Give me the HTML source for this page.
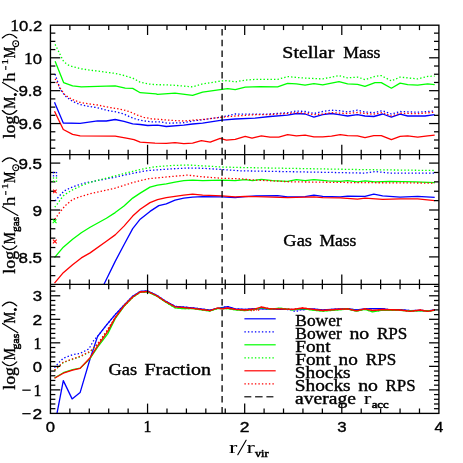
<!DOCTYPE html>
<html><head><meta charset="utf-8"><title>plot</title>
<style>
html,body{margin:0;padding:0;background:#fff;}
body{width:463px;height:463px;overflow:hidden;font-family:"Liberation Serif",serif;}
svg{display:block;will-change:transform;}
text{white-space:pre;}
.s{font-family:"Liberation Serif",serif;}
.n{font-family:"Liberation Sans",sans-serif;}
</style></head><body>
<svg width="463" height="463" viewBox="0 0 463 463">
<rect x="0" y="0" width="463" height="463" fill="#ffffff"/>
<polyline points="54.5,102.2 63.3,123.0 80.1,123.3 97.6,120.8 106.4,121.0 115.2,119.5 124.0,121.3 132.7,123.8 140.2,124.5 147.7,125.5 157.5,125.2 166.3,126.5 183.8,125.2 192.6,124.0 202.6,123.2 222.0,120.2 235.2,119.0 255.0,118.2 270.0,116.5 287.6,115.2 296.4,113.5 305.1,114.0 313.9,117.2 322.7,114.7 331.5,113.5 339.0,114.7 347.6,116.0 357.5,114.7 365.0,116.0 373.8,116.5 382.6,114.0 391.4,117.2 400.1,114.2 407.7,116.0 425.0,116.0 434.7,114.7" fill="none" stroke="#0000ff" stroke-width="1.3" stroke-linejoin="round" stroke-linecap="butt" />
<polyline points="55.1,74.1 60.0,88.8 65.0,95.7 70.0,99.8 75.0,102.5 80.0,104.4 85.0,105.7 90.1,106.6 97.6,107.8 105.1,109.8 110.0,111.0 116.3,111.9 123.8,114.0 130.0,116.9 136.9,119.4 143.8,120.9 151.4,121.9 160.1,121.9 168.0,123.2 183.8,122.7 192.6,121.0 202.6,119.7 222.0,117.0 235.2,114.0 256.0,114.2 270.0,114.0 287.6,112.7 296.4,111.0 305.1,111.5 313.9,113.5 322.7,111.5 331.5,110.2 339.0,110.7 347.6,112.0 357.5,110.2 365.0,112.0 373.8,112.7 382.6,110.7 391.4,114.0 400.1,111.5 417.7,112.2 434.7,111.0" fill="none" stroke="#0000ff" stroke-width="1.3" stroke-linejoin="round" stroke-linecap="butt" stroke-dasharray="1.4 2.1" />
<polyline points="55.1,61.3 63.6,82.6 72.6,85.9 81.3,86.9 97.6,86.4 115.2,85.9 125.2,88.2 132.7,88.4 140.2,92.7 156.0,93.9 157.5,94.4 175.0,93.2 192.6,95.4 202.6,92.2 222.0,89.4 227.7,88.7 235.2,89.7 245.2,87.1 260.0,86.6 277.6,86.9 287.6,83.4 296.4,83.9 305.1,85.1 313.9,83.6 322.7,84.9 339.0,81.6 347.6,83.9 357.5,84.4 365.0,86.4 375.0,82.6 381.3,82.6 391.4,88.2 400.1,83.1 407.7,84.6 417.7,85.1 427.7,83.9 434.7,84.6" fill="none" stroke="#00ff00" stroke-width="1.3" stroke-linejoin="round" stroke-linecap="butt" />
<polyline points="55.1,44.4 63.6,61.5 67.6,64.7 72.5,66.6 81.3,68.8 90.1,70.1 115.2,73.4 124.0,75.5 132.7,78.1 140.0,82.1 147.7,83.9 155.0,84.6 172.6,85.1 192.6,86.9 202.6,83.9 222.0,80.9 227.7,80.6 235.2,81.9 245.2,80.1 255.0,79.4 277.6,79.4 287.6,76.6 296.4,77.4 305.1,78.1 322.7,78.9 339.0,75.6 347.6,77.9 357.5,77.1 365.0,79.6 375.0,76.4 381.3,75.6 391.4,80.9 400.1,77.1 417.7,78.9 427.7,76.4 434.7,76.1" fill="none" stroke="#00ff00" stroke-width="1.3" stroke-linejoin="round" stroke-linecap="butt" stroke-dasharray="1.4 2.1" />
<polyline points="54.5,111.3 63.3,129.5 72.6,134.3 80.1,135.8 115.2,136.1 127.7,138.3 134.0,139.6 140.2,142.1 155.0,143.1 166.3,143.3 175.0,142.6 183.8,143.6 192.6,143.1 201.4,140.6 210.2,142.1 220.2,138.3 226.4,140.1 235.2,139.3 245.2,136.3 252.0,138.1 261.3,135.8 270.0,137.1 278.8,137.1 287.6,134.6 296.4,135.8 305.1,135.1 313.9,136.8 322.7,136.8 331.5,136.1 340.2,134.6 347.6,135.6 357.5,135.8 365.0,137.6 373.8,135.6 381.3,135.6 391.4,139.6 400.1,136.3 407.7,135.8 417.7,137.1 427.7,135.8 434.7,135.1" fill="none" stroke="#ff0000" stroke-width="1.3" stroke-linejoin="round" stroke-linecap="butt" />
<polyline points="55.1,78.8 60.0,88.1 65.0,95.0 70.0,98.2 75.0,100.7 80.0,102.3 85.0,103.2 90.1,104.0 97.6,105.0 105.1,106.6 110.0,107.5 116.3,108.5 123.8,110.0 130.0,111.9 136.9,115.0 143.8,117.3 151.4,118.8 160.1,119.4 168.0,120.1 172.6,120.4 183.8,121.0 192.6,120.2 202.6,119.5 222.0,117.2 235.2,116.0 256.0,114.7 270.0,114.5 287.6,113.5 296.4,112.7 305.1,113.2 313.9,114.7 322.7,114.0 331.5,112.7 347.6,113.5 357.5,112.5 365.0,113.5 373.8,114.2 382.6,112.5 391.4,116.0 400.1,113.2 417.7,113.7 434.7,112.2" fill="none" stroke="#ff0000" stroke-width="1.3" stroke-linejoin="round" stroke-linecap="butt" stroke-dasharray="1.4 2.1" />
<polyline points="103.9,284.5 115.2,261.4 124.0,244.8 132.7,228.6 140.2,219.2 150.0,211.4 158.8,205.6 166.3,203.9 175.0,200.1 183.8,198.1 192.6,197.1 202.6,196.6 222.0,196.9 235.2,197.6 245.2,196.6 256.0,195.9 277.6,195.6 287.6,196.9 305.1,196.6 313.9,195.1 322.7,196.4 340.2,196.9 347.6,196.1 365.0,196.4 373.8,194.1 382.6,195.9 400.1,197.1 417.7,196.4 434.7,197.4" fill="none" stroke="#0000ff" stroke-width="1.3" stroke-linejoin="round" stroke-linecap="butt" />
<polyline points="55.2,200.9 59.6,195.7 64.3,190.9 70.8,187.6 77.3,185.3 83.7,183.3 90.1,182.0 106.4,178.8 115.2,177.1 132.7,173.3 147.7,170.5 155.0,170.0 172.6,168.8 187.6,168.0 202.6,168.3 222.0,169.5 240.2,170.8 340.0,172.6 365.0,173.1 375.0,171.5 390.0,173.1 434.7,173.1" fill="none" stroke="#0000ff" stroke-width="1.3" stroke-linejoin="round" stroke-linecap="butt" stroke-dasharray="1.4 2.1" />
<polyline points="54.5,257.7 63.3,247.2 72.6,239.2 81.3,232.7 90.1,227.2 106.4,218.2 115.2,212.6 124.0,206.1 132.7,198.1 140.2,193.1 150.0,187.1 157.5,185.1 166.3,183.8 175.0,182.1 183.8,180.6 192.6,180.1 202.6,180.6 222.0,180.1 235.2,180.6 245.2,179.6 252.5,180.6 261.3,179.3 272.5,180.6 287.6,181.3 296.4,179.6 305.1,180.6 313.9,179.6 327.7,180.8 340.2,181.3 347.6,180.6 357.5,181.8 365.0,180.8 375.0,181.8 390.0,181.3 415.0,181.8 434.7,182.6" fill="none" stroke="#00ff00" stroke-width="1.3" stroke-linejoin="round" stroke-linecap="butt" />
<polyline points="54.8,207.2 57.0,204.3 61.1,198.7 63.2,195.9 66.0,193.9 71.8,190.2 78.1,187.3 81.3,185.7 90.1,182.4 106.4,178.1 115.2,175.8 132.7,171.3 147.7,168.0 155.0,166.8 172.6,165.5 187.6,165.0 202.6,165.8 222.0,167.0 240.2,167.5 356.0,169.5 434.7,170.5" fill="none" stroke="#00ff00" stroke-width="1.3" stroke-linejoin="round" stroke-linecap="butt" stroke-dasharray="1.4 2.1" />
<polyline points="54.5,283.2 63.3,272.7 72.6,264.7 81.3,257.9 90.1,252.9 106.4,241.2 115.2,234.9 124.0,226.1 132.7,216.1 140.2,209.2 150.0,202.6 157.5,199.6 166.3,197.6 175.0,196.4 183.8,195.1 192.6,194.1 202.6,195.1 222.0,195.9 235.2,196.9 245.2,196.4 256.0,196.6 265.0,196.9 287.6,197.6 305.1,197.1 313.9,196.9 322.7,197.6 340.2,197.8 357.5,199.1 365.0,198.1 382.6,199.4 400.1,198.9 417.7,198.9 434.7,200.6" fill="none" stroke="#ff0000" stroke-width="1.3" stroke-linejoin="round" stroke-linecap="butt" />
<polyline points="54.8,219.3 60.0,212.0 65.2,205.7 72.6,199.4 81.3,196.4 90.1,193.8 106.4,190.1 115.2,188.1 132.7,182.6 147.7,178.8 165.0,177.1 187.6,175.1 202.6,176.8 222.0,178.3 240.2,178.8 256.0,180.1 290.0,181.8 356.0,182.6 434.7,183.1" fill="none" stroke="#ff0000" stroke-width="1.3" stroke-linejoin="round" stroke-linecap="butt" stroke-dasharray="1.4 2.1" />
<polyline points="57.0,413.4 63.3,380.6 72.1,398.9 80.1,392.6 90.1,358.8 97.6,336.4 106.4,325.1 115.2,314.6 124.0,305.1 132.7,296.3 140.2,291.5 147.7,291.0 156.3,295.0 165.0,300.8 175.0,306.3 192.6,307.8 210.1,310.1 217.7,308.3 227.7,306.6 235.2,308.8 245.2,309.5 255.2,308.6 270.0,309.0 285.0,309.3 300.0,309.6 312.6,309.0 322.7,310.0 335.2,309.2 347.7,308.6 356.3,310.0 365.0,309.0 372.6,308.6 382.6,308.6 390.0,309.8 400.0,309.6 410.2,310.6 420.2,310.3 427.7,310.8 434.7,310.0" fill="none" stroke="#0000ff" stroke-width="1.3" stroke-linejoin="round" stroke-linecap="butt" />
<polyline points="54.5,367.7 58.8,362.7 63.3,358.2 72.6,354.7 80.1,353.4 88.9,348.9 93.9,340.1 97.6,336.4 106.4,325.1 115.2,314.6 124.0,305.1 132.7,296.3 140.2,291.5 147.7,291.0 156.3,295.0 165.0,300.8 175.0,306.3 192.6,307.8 210.1,310.1 217.7,308.3 227.7,306.6 235.2,308.8 245.2,309.5 255.2,308.6 270.0,309.0 285.0,309.3 291.0,309.9 296.0,311.8 300.0,309.6 301.0,309.9 312.6,309.0 322.7,310.0 335.2,309.2 347.7,308.6 356.3,310.0 365.0,309.0 372.6,308.6 382.6,308.6 390.0,309.8 400.0,309.6 410.2,310.6 420.2,310.3 427.7,310.8 434.7,310.0" fill="none" stroke="#0000ff" stroke-width="1.3" stroke-linejoin="round" stroke-linecap="butt" stroke-dasharray="1.4 2.1" />
<polyline points="54.5,378.0 63.3,372.7 72.6,369.7 80.1,368.2 90.1,358.5 97.6,347.2 107.7,333.9 115.2,318.6 124.0,306.3 132.7,297.3 140.2,292.3 147.7,291.8 156.3,295.8 165.0,301.6 175.0,307.8 183.0,308.6 192.6,308.6 210.1,311.0 217.7,308.3 227.7,308.6 235.2,309.8 245.2,310.6 255.2,309.3 261.3,307.6 270.0,309.2 280.0,308.2 292.6,309.8 302.6,308.6 312.6,310.0 322.7,311.2 335.2,310.0 347.7,309.0 356.3,311.0 365.0,309.4 372.6,311.8 382.6,310.0 400.0,310.3 410.2,311.0 420.2,310.6 427.7,311.0 434.7,310.4" fill="none" stroke="#00ff00" stroke-width="1.3" stroke-linejoin="round" stroke-linecap="butt" />
<polyline points="54.5,370.6 60.0,365.6 63.3,362.6 72.6,359.3 80.1,356.8 90.1,351.8 97.6,344.3 106.4,331.8 115.2,318.0 124.0,306.2 132.7,297.4 140.2,292.3 147.7,291.8 156.3,295.8 165.0,301.6 175.0,307.8 183.0,308.6 192.6,308.6 210.1,311.0 217.7,308.3 227.7,308.6 235.2,309.8 245.2,310.6 255.2,309.3 261.3,307.6 270.0,309.2 280.0,308.2 292.6,309.8 302.6,308.6 312.6,310.0 322.7,311.2 335.2,310.0 347.7,309.0 356.3,311.0 365.0,309.4 372.6,311.8 382.6,310.0 400.0,310.3 410.2,311.0 420.2,310.6 427.7,311.0 434.7,310.4" fill="none" stroke="#00ff00" stroke-width="1.3" stroke-linejoin="round" stroke-linecap="butt" stroke-dasharray="1.4 2.1" />
<polyline points="54.5,378.2 63.3,373.2 72.6,370.2 80.1,368.4 90.1,357.7 97.6,345.9 107.7,331.4 115.2,317.6 124.0,305.8 132.7,297.0 140.2,292.0 147.7,291.5 156.3,295.5 165.0,301.3 175.0,306.8 192.6,308.3 210.1,310.6 217.7,308.0 222.0,308.8 227.7,308.0 235.2,309.3 245.2,310.0 255.2,308.8 261.3,307.0 270.0,308.8 280.0,308.8 292.6,309.3 302.6,308.0 312.6,309.3 322.7,310.5 335.2,309.5 347.7,308.8 356.3,310.8 365.0,308.8 372.6,310.5 382.6,309.5 400.0,310.0 410.2,311.3 420.2,310.0 427.7,311.3 434.7,310.0" fill="none" stroke="#ff0000" stroke-width="1.3" stroke-linejoin="round" stroke-linecap="butt" />
<polyline points="54.5,370.2 60.0,365.2 63.3,362.2 72.6,358.9 80.1,356.4 90.1,351.4 97.6,343.9 106.4,331.4 115.2,317.6 124.0,305.8 132.7,297.0 140.2,292.0 147.7,291.5 156.3,295.5 165.0,301.3 175.0,306.8 192.6,308.3 210.1,310.6 217.7,308.0 222.0,308.8 227.7,308.0 235.2,309.3 245.2,310.0 250.5,310.2 253.0,311.4 255.2,308.8 258.0,311.2 259.5,308.5 261.3,307.0 270.0,308.8 280.0,308.8 292.6,309.3 302.6,308.0 312.6,309.3 322.7,310.5 335.2,309.5 347.7,308.8 356.3,310.8 365.0,308.8 372.6,310.5 382.6,309.5 400.0,310.0 410.2,311.3 420.2,310.0 427.7,311.3 434.7,310.0" fill="none" stroke="#ff0000" stroke-width="1.3" stroke-linejoin="round" stroke-linecap="butt" stroke-dasharray="1.4 2.1" />
<line x1="222.10" y1="406.90" x2="222.10" y2="413.40" stroke="#000000" stroke-width="1.3" />
<line x1="222.10" y1="396.10" x2="222.10" y2="402.60" stroke="#000000" stroke-width="1.3" />
<line x1="222.10" y1="385.30" x2="222.10" y2="391.80" stroke="#000000" stroke-width="1.3" />
<line x1="222.10" y1="374.50" x2="222.10" y2="381.00" stroke="#000000" stroke-width="1.3" />
<line x1="222.10" y1="363.70" x2="222.10" y2="370.20" stroke="#000000" stroke-width="1.3" />
<line x1="222.10" y1="352.90" x2="222.10" y2="359.40" stroke="#000000" stroke-width="1.3" />
<line x1="222.10" y1="342.10" x2="222.10" y2="348.60" stroke="#000000" stroke-width="1.3" />
<line x1="222.10" y1="331.30" x2="222.10" y2="337.80" stroke="#000000" stroke-width="1.3" />
<line x1="222.10" y1="320.50" x2="222.10" y2="327.00" stroke="#000000" stroke-width="1.3" />
<line x1="222.10" y1="309.70" x2="222.10" y2="316.20" stroke="#000000" stroke-width="1.3" />
<line x1="222.10" y1="298.90" x2="222.10" y2="305.40" stroke="#000000" stroke-width="1.3" />
<line x1="222.10" y1="288.10" x2="222.10" y2="294.60" stroke="#000000" stroke-width="1.3" />
<line x1="222.10" y1="277.30" x2="222.10" y2="283.80" stroke="#000000" stroke-width="1.3" />
<line x1="222.10" y1="266.50" x2="222.10" y2="273.00" stroke="#000000" stroke-width="1.3" />
<line x1="222.10" y1="255.70" x2="222.10" y2="262.20" stroke="#000000" stroke-width="1.3" />
<line x1="222.10" y1="244.90" x2="222.10" y2="251.40" stroke="#000000" stroke-width="1.3" />
<line x1="222.10" y1="234.10" x2="222.10" y2="240.60" stroke="#000000" stroke-width="1.3" />
<line x1="222.10" y1="223.30" x2="222.10" y2="229.80" stroke="#000000" stroke-width="1.3" />
<line x1="222.10" y1="212.50" x2="222.10" y2="219.00" stroke="#000000" stroke-width="1.3" />
<line x1="222.10" y1="201.70" x2="222.10" y2="208.20" stroke="#000000" stroke-width="1.3" />
<line x1="222.10" y1="190.90" x2="222.10" y2="197.40" stroke="#000000" stroke-width="1.3" />
<line x1="222.10" y1="180.10" x2="222.10" y2="186.60" stroke="#000000" stroke-width="1.3" />
<line x1="222.10" y1="169.30" x2="222.10" y2="175.80" stroke="#000000" stroke-width="1.3" />
<line x1="222.10" y1="158.50" x2="222.10" y2="165.00" stroke="#000000" stroke-width="1.3" />
<line x1="222.10" y1="147.70" x2="222.10" y2="154.20" stroke="#000000" stroke-width="1.3" />
<line x1="222.10" y1="136.90" x2="222.10" y2="143.40" stroke="#000000" stroke-width="1.3" />
<line x1="222.10" y1="126.10" x2="222.10" y2="132.60" stroke="#000000" stroke-width="1.3" />
<line x1="222.10" y1="115.30" x2="222.10" y2="121.80" stroke="#000000" stroke-width="1.3" />
<line x1="222.10" y1="104.50" x2="222.10" y2="111.00" stroke="#000000" stroke-width="1.3" />
<line x1="222.10" y1="93.70" x2="222.10" y2="100.20" stroke="#000000" stroke-width="1.3" />
<line x1="222.10" y1="82.90" x2="222.10" y2="89.40" stroke="#000000" stroke-width="1.3" />
<line x1="222.10" y1="72.10" x2="222.10" y2="78.60" stroke="#000000" stroke-width="1.3" />
<line x1="222.10" y1="61.30" x2="222.10" y2="67.80" stroke="#000000" stroke-width="1.3" />
<line x1="222.10" y1="50.50" x2="222.10" y2="57.00" stroke="#000000" stroke-width="1.3" />
<line x1="222.10" y1="39.70" x2="222.10" y2="46.20" stroke="#000000" stroke-width="1.3" />
<line x1="222.10" y1="28.90" x2="222.10" y2="35.40" stroke="#000000" stroke-width="1.3" />
<rect x="50.45" y="25.2" width="388.45" height="388.20" fill="none" stroke="#000000" stroke-width="1.35"/>
<line x1="50.45" y1="154.60" x2="438.90" y2="154.60" stroke="#000000" stroke-width="1.35" />
<line x1="50.45" y1="284.30" x2="438.90" y2="284.30" stroke="#000000" stroke-width="1.35" />
<line x1="69.87" y1="25.20" x2="69.87" y2="30.10" stroke="#000000" stroke-width="1.25" />
<line x1="69.87" y1="149.70" x2="69.87" y2="159.50" stroke="#000000" stroke-width="1.25" />
<line x1="69.87" y1="279.40" x2="69.87" y2="289.20" stroke="#000000" stroke-width="1.25" />
<line x1="69.87" y1="413.40" x2="69.87" y2="408.50" stroke="#000000" stroke-width="1.25" />
<line x1="89.30" y1="25.20" x2="89.30" y2="30.10" stroke="#000000" stroke-width="1.25" />
<line x1="89.30" y1="149.70" x2="89.30" y2="159.50" stroke="#000000" stroke-width="1.25" />
<line x1="89.30" y1="279.40" x2="89.30" y2="289.20" stroke="#000000" stroke-width="1.25" />
<line x1="89.30" y1="413.40" x2="89.30" y2="408.50" stroke="#000000" stroke-width="1.25" />
<line x1="108.72" y1="25.20" x2="108.72" y2="30.10" stroke="#000000" stroke-width="1.25" />
<line x1="108.72" y1="149.70" x2="108.72" y2="159.50" stroke="#000000" stroke-width="1.25" />
<line x1="108.72" y1="279.40" x2="108.72" y2="289.20" stroke="#000000" stroke-width="1.25" />
<line x1="108.72" y1="413.40" x2="108.72" y2="408.50" stroke="#000000" stroke-width="1.25" />
<line x1="128.14" y1="25.20" x2="128.14" y2="30.10" stroke="#000000" stroke-width="1.25" />
<line x1="128.14" y1="149.70" x2="128.14" y2="159.50" stroke="#000000" stroke-width="1.25" />
<line x1="128.14" y1="279.40" x2="128.14" y2="289.20" stroke="#000000" stroke-width="1.25" />
<line x1="128.14" y1="413.40" x2="128.14" y2="408.50" stroke="#000000" stroke-width="1.25" />
<line x1="147.56" y1="25.20" x2="147.56" y2="35.00" stroke="#000000" stroke-width="1.25" />
<line x1="147.56" y1="144.80" x2="147.56" y2="164.40" stroke="#000000" stroke-width="1.25" />
<line x1="147.56" y1="274.50" x2="147.56" y2="294.10" stroke="#000000" stroke-width="1.25" />
<line x1="147.56" y1="413.40" x2="147.56" y2="403.60" stroke="#000000" stroke-width="1.25" />
<line x1="166.99" y1="25.20" x2="166.99" y2="30.10" stroke="#000000" stroke-width="1.25" />
<line x1="166.99" y1="149.70" x2="166.99" y2="159.50" stroke="#000000" stroke-width="1.25" />
<line x1="166.99" y1="279.40" x2="166.99" y2="289.20" stroke="#000000" stroke-width="1.25" />
<line x1="166.99" y1="413.40" x2="166.99" y2="408.50" stroke="#000000" stroke-width="1.25" />
<line x1="186.41" y1="25.20" x2="186.41" y2="30.10" stroke="#000000" stroke-width="1.25" />
<line x1="186.41" y1="149.70" x2="186.41" y2="159.50" stroke="#000000" stroke-width="1.25" />
<line x1="186.41" y1="279.40" x2="186.41" y2="289.20" stroke="#000000" stroke-width="1.25" />
<line x1="186.41" y1="413.40" x2="186.41" y2="408.50" stroke="#000000" stroke-width="1.25" />
<line x1="205.83" y1="25.20" x2="205.83" y2="30.10" stroke="#000000" stroke-width="1.25" />
<line x1="205.83" y1="149.70" x2="205.83" y2="159.50" stroke="#000000" stroke-width="1.25" />
<line x1="205.83" y1="279.40" x2="205.83" y2="289.20" stroke="#000000" stroke-width="1.25" />
<line x1="205.83" y1="413.40" x2="205.83" y2="408.50" stroke="#000000" stroke-width="1.25" />
<line x1="225.25" y1="25.20" x2="225.25" y2="30.10" stroke="#000000" stroke-width="1.25" />
<line x1="225.25" y1="149.70" x2="225.25" y2="159.50" stroke="#000000" stroke-width="1.25" />
<line x1="225.25" y1="279.40" x2="225.25" y2="289.20" stroke="#000000" stroke-width="1.25" />
<line x1="225.25" y1="413.40" x2="225.25" y2="408.50" stroke="#000000" stroke-width="1.25" />
<line x1="244.68" y1="25.20" x2="244.68" y2="35.00" stroke="#000000" stroke-width="1.25" />
<line x1="244.68" y1="144.80" x2="244.68" y2="164.40" stroke="#000000" stroke-width="1.25" />
<line x1="244.68" y1="274.50" x2="244.68" y2="294.10" stroke="#000000" stroke-width="1.25" />
<line x1="244.68" y1="413.40" x2="244.68" y2="403.60" stroke="#000000" stroke-width="1.25" />
<line x1="264.10" y1="25.20" x2="264.10" y2="30.10" stroke="#000000" stroke-width="1.25" />
<line x1="264.10" y1="149.70" x2="264.10" y2="159.50" stroke="#000000" stroke-width="1.25" />
<line x1="264.10" y1="279.40" x2="264.10" y2="289.20" stroke="#000000" stroke-width="1.25" />
<line x1="264.10" y1="413.40" x2="264.10" y2="408.50" stroke="#000000" stroke-width="1.25" />
<line x1="283.52" y1="25.20" x2="283.52" y2="30.10" stroke="#000000" stroke-width="1.25" />
<line x1="283.52" y1="149.70" x2="283.52" y2="159.50" stroke="#000000" stroke-width="1.25" />
<line x1="283.52" y1="279.40" x2="283.52" y2="289.20" stroke="#000000" stroke-width="1.25" />
<line x1="283.52" y1="413.40" x2="283.52" y2="408.50" stroke="#000000" stroke-width="1.25" />
<line x1="302.94" y1="25.20" x2="302.94" y2="30.10" stroke="#000000" stroke-width="1.25" />
<line x1="302.94" y1="149.70" x2="302.94" y2="159.50" stroke="#000000" stroke-width="1.25" />
<line x1="302.94" y1="279.40" x2="302.94" y2="289.20" stroke="#000000" stroke-width="1.25" />
<line x1="302.94" y1="413.40" x2="302.94" y2="408.50" stroke="#000000" stroke-width="1.25" />
<line x1="322.37" y1="25.20" x2="322.37" y2="30.10" stroke="#000000" stroke-width="1.25" />
<line x1="322.37" y1="149.70" x2="322.37" y2="159.50" stroke="#000000" stroke-width="1.25" />
<line x1="322.37" y1="279.40" x2="322.37" y2="289.20" stroke="#000000" stroke-width="1.25" />
<line x1="322.37" y1="413.40" x2="322.37" y2="408.50" stroke="#000000" stroke-width="1.25" />
<line x1="341.79" y1="25.20" x2="341.79" y2="35.00" stroke="#000000" stroke-width="1.25" />
<line x1="341.79" y1="144.80" x2="341.79" y2="164.40" stroke="#000000" stroke-width="1.25" />
<line x1="341.79" y1="274.50" x2="341.79" y2="294.10" stroke="#000000" stroke-width="1.25" />
<line x1="341.79" y1="413.40" x2="341.79" y2="403.60" stroke="#000000" stroke-width="1.25" />
<line x1="361.21" y1="25.20" x2="361.21" y2="30.10" stroke="#000000" stroke-width="1.25" />
<line x1="361.21" y1="149.70" x2="361.21" y2="159.50" stroke="#000000" stroke-width="1.25" />
<line x1="361.21" y1="279.40" x2="361.21" y2="289.20" stroke="#000000" stroke-width="1.25" />
<line x1="361.21" y1="413.40" x2="361.21" y2="408.50" stroke="#000000" stroke-width="1.25" />
<line x1="380.63" y1="25.20" x2="380.63" y2="30.10" stroke="#000000" stroke-width="1.25" />
<line x1="380.63" y1="149.70" x2="380.63" y2="159.50" stroke="#000000" stroke-width="1.25" />
<line x1="380.63" y1="279.40" x2="380.63" y2="289.20" stroke="#000000" stroke-width="1.25" />
<line x1="380.63" y1="413.40" x2="380.63" y2="408.50" stroke="#000000" stroke-width="1.25" />
<line x1="400.06" y1="25.20" x2="400.06" y2="30.10" stroke="#000000" stroke-width="1.25" />
<line x1="400.06" y1="149.70" x2="400.06" y2="159.50" stroke="#000000" stroke-width="1.25" />
<line x1="400.06" y1="279.40" x2="400.06" y2="289.20" stroke="#000000" stroke-width="1.25" />
<line x1="400.06" y1="413.40" x2="400.06" y2="408.50" stroke="#000000" stroke-width="1.25" />
<line x1="419.48" y1="25.20" x2="419.48" y2="30.10" stroke="#000000" stroke-width="1.25" />
<line x1="419.48" y1="149.70" x2="419.48" y2="159.50" stroke="#000000" stroke-width="1.25" />
<line x1="419.48" y1="279.40" x2="419.48" y2="289.20" stroke="#000000" stroke-width="1.25" />
<line x1="419.48" y1="413.40" x2="419.48" y2="408.50" stroke="#000000" stroke-width="1.25" />
<line x1="50.45" y1="148.22" x2="55.35" y2="148.22" stroke="#000000" stroke-width="1.25" />
<line x1="438.90" y1="148.22" x2="434.00" y2="148.22" stroke="#000000" stroke-width="1.25" />
<line x1="50.45" y1="140.00" x2="55.35" y2="140.00" stroke="#000000" stroke-width="1.25" />
<line x1="438.90" y1="140.00" x2="434.00" y2="140.00" stroke="#000000" stroke-width="1.25" />
<line x1="50.45" y1="131.78" x2="55.35" y2="131.78" stroke="#000000" stroke-width="1.25" />
<line x1="438.90" y1="131.78" x2="434.00" y2="131.78" stroke="#000000" stroke-width="1.25" />
<line x1="50.45" y1="123.56" x2="60.25" y2="123.56" stroke="#000000" stroke-width="1.25" />
<line x1="438.90" y1="123.56" x2="429.10" y2="123.56" stroke="#000000" stroke-width="1.25" />
<line x1="50.45" y1="115.34" x2="55.35" y2="115.34" stroke="#000000" stroke-width="1.25" />
<line x1="438.90" y1="115.34" x2="434.00" y2="115.34" stroke="#000000" stroke-width="1.25" />
<line x1="50.45" y1="107.12" x2="55.35" y2="107.12" stroke="#000000" stroke-width="1.25" />
<line x1="438.90" y1="107.12" x2="434.00" y2="107.12" stroke="#000000" stroke-width="1.25" />
<line x1="50.45" y1="98.90" x2="55.35" y2="98.90" stroke="#000000" stroke-width="1.25" />
<line x1="438.90" y1="98.90" x2="434.00" y2="98.90" stroke="#000000" stroke-width="1.25" />
<line x1="50.45" y1="90.68" x2="60.25" y2="90.68" stroke="#000000" stroke-width="1.25" />
<line x1="438.90" y1="90.68" x2="429.10" y2="90.68" stroke="#000000" stroke-width="1.25" />
<line x1="50.45" y1="82.46" x2="55.35" y2="82.46" stroke="#000000" stroke-width="1.25" />
<line x1="438.90" y1="82.46" x2="434.00" y2="82.46" stroke="#000000" stroke-width="1.25" />
<line x1="50.45" y1="74.24" x2="55.35" y2="74.24" stroke="#000000" stroke-width="1.25" />
<line x1="438.90" y1="74.24" x2="434.00" y2="74.24" stroke="#000000" stroke-width="1.25" />
<line x1="50.45" y1="66.02" x2="55.35" y2="66.02" stroke="#000000" stroke-width="1.25" />
<line x1="438.90" y1="66.02" x2="434.00" y2="66.02" stroke="#000000" stroke-width="1.25" />
<line x1="50.45" y1="57.80" x2="60.25" y2="57.80" stroke="#000000" stroke-width="1.25" />
<line x1="438.90" y1="57.80" x2="429.10" y2="57.80" stroke="#000000" stroke-width="1.25" />
<line x1="50.45" y1="49.58" x2="55.35" y2="49.58" stroke="#000000" stroke-width="1.25" />
<line x1="438.90" y1="49.58" x2="434.00" y2="49.58" stroke="#000000" stroke-width="1.25" />
<line x1="50.45" y1="41.36" x2="55.35" y2="41.36" stroke="#000000" stroke-width="1.25" />
<line x1="438.90" y1="41.36" x2="434.00" y2="41.36" stroke="#000000" stroke-width="1.25" />
<line x1="50.45" y1="33.14" x2="55.35" y2="33.14" stroke="#000000" stroke-width="1.25" />
<line x1="438.90" y1="33.14" x2="434.00" y2="33.14" stroke="#000000" stroke-width="1.25" />
<line x1="50.45" y1="275.66" x2="55.35" y2="275.66" stroke="#000000" stroke-width="1.25" />
<line x1="438.90" y1="275.66" x2="434.00" y2="275.66" stroke="#000000" stroke-width="1.25" />
<line x1="50.45" y1="266.28" x2="55.35" y2="266.28" stroke="#000000" stroke-width="1.25" />
<line x1="438.90" y1="266.28" x2="434.00" y2="266.28" stroke="#000000" stroke-width="1.25" />
<line x1="50.45" y1="256.90" x2="60.25" y2="256.90" stroke="#000000" stroke-width="1.25" />
<line x1="438.90" y1="256.90" x2="429.10" y2="256.90" stroke="#000000" stroke-width="1.25" />
<line x1="50.45" y1="247.52" x2="55.35" y2="247.52" stroke="#000000" stroke-width="1.25" />
<line x1="438.90" y1="247.52" x2="434.00" y2="247.52" stroke="#000000" stroke-width="1.25" />
<line x1="50.45" y1="238.14" x2="55.35" y2="238.14" stroke="#000000" stroke-width="1.25" />
<line x1="438.90" y1="238.14" x2="434.00" y2="238.14" stroke="#000000" stroke-width="1.25" />
<line x1="50.45" y1="228.76" x2="55.35" y2="228.76" stroke="#000000" stroke-width="1.25" />
<line x1="438.90" y1="228.76" x2="434.00" y2="228.76" stroke="#000000" stroke-width="1.25" />
<line x1="50.45" y1="219.38" x2="55.35" y2="219.38" stroke="#000000" stroke-width="1.25" />
<line x1="438.90" y1="219.38" x2="434.00" y2="219.38" stroke="#000000" stroke-width="1.25" />
<line x1="50.45" y1="210.00" x2="60.25" y2="210.00" stroke="#000000" stroke-width="1.25" />
<line x1="438.90" y1="210.00" x2="429.10" y2="210.00" stroke="#000000" stroke-width="1.25" />
<line x1="50.45" y1="200.62" x2="55.35" y2="200.62" stroke="#000000" stroke-width="1.25" />
<line x1="438.90" y1="200.62" x2="434.00" y2="200.62" stroke="#000000" stroke-width="1.25" />
<line x1="50.45" y1="191.24" x2="55.35" y2="191.24" stroke="#000000" stroke-width="1.25" />
<line x1="438.90" y1="191.24" x2="434.00" y2="191.24" stroke="#000000" stroke-width="1.25" />
<line x1="50.45" y1="181.86" x2="55.35" y2="181.86" stroke="#000000" stroke-width="1.25" />
<line x1="438.90" y1="181.86" x2="434.00" y2="181.86" stroke="#000000" stroke-width="1.25" />
<line x1="50.45" y1="172.48" x2="55.35" y2="172.48" stroke="#000000" stroke-width="1.25" />
<line x1="438.90" y1="172.48" x2="434.00" y2="172.48" stroke="#000000" stroke-width="1.25" />
<line x1="50.45" y1="163.10" x2="60.25" y2="163.10" stroke="#000000" stroke-width="1.25" />
<line x1="438.90" y1="163.10" x2="429.10" y2="163.10" stroke="#000000" stroke-width="1.25" />
<line x1="50.45" y1="408.69" x2="55.35" y2="408.69" stroke="#000000" stroke-width="1.25" />
<line x1="438.90" y1="408.69" x2="434.00" y2="408.69" stroke="#000000" stroke-width="1.25" />
<line x1="50.45" y1="403.98" x2="55.35" y2="403.98" stroke="#000000" stroke-width="1.25" />
<line x1="438.90" y1="403.98" x2="434.00" y2="403.98" stroke="#000000" stroke-width="1.25" />
<line x1="50.45" y1="399.28" x2="55.35" y2="399.28" stroke="#000000" stroke-width="1.25" />
<line x1="438.90" y1="399.28" x2="434.00" y2="399.28" stroke="#000000" stroke-width="1.25" />
<line x1="50.45" y1="394.57" x2="55.35" y2="394.57" stroke="#000000" stroke-width="1.25" />
<line x1="438.90" y1="394.57" x2="434.00" y2="394.57" stroke="#000000" stroke-width="1.25" />
<line x1="50.45" y1="389.87" x2="60.25" y2="389.87" stroke="#000000" stroke-width="1.25" />
<line x1="438.90" y1="389.87" x2="429.10" y2="389.87" stroke="#000000" stroke-width="1.25" />
<line x1="50.45" y1="385.17" x2="55.35" y2="385.17" stroke="#000000" stroke-width="1.25" />
<line x1="438.90" y1="385.17" x2="434.00" y2="385.17" stroke="#000000" stroke-width="1.25" />
<line x1="50.45" y1="380.46" x2="55.35" y2="380.46" stroke="#000000" stroke-width="1.25" />
<line x1="438.90" y1="380.46" x2="434.00" y2="380.46" stroke="#000000" stroke-width="1.25" />
<line x1="50.45" y1="375.76" x2="55.35" y2="375.76" stroke="#000000" stroke-width="1.25" />
<line x1="438.90" y1="375.76" x2="434.00" y2="375.76" stroke="#000000" stroke-width="1.25" />
<line x1="50.45" y1="371.05" x2="55.35" y2="371.05" stroke="#000000" stroke-width="1.25" />
<line x1="438.90" y1="371.05" x2="434.00" y2="371.05" stroke="#000000" stroke-width="1.25" />
<line x1="50.45" y1="366.35" x2="60.25" y2="366.35" stroke="#000000" stroke-width="1.25" />
<line x1="438.90" y1="366.35" x2="429.10" y2="366.35" stroke="#000000" stroke-width="1.25" />
<line x1="50.45" y1="361.65" x2="55.35" y2="361.65" stroke="#000000" stroke-width="1.25" />
<line x1="438.90" y1="361.65" x2="434.00" y2="361.65" stroke="#000000" stroke-width="1.25" />
<line x1="50.45" y1="356.94" x2="55.35" y2="356.94" stroke="#000000" stroke-width="1.25" />
<line x1="438.90" y1="356.94" x2="434.00" y2="356.94" stroke="#000000" stroke-width="1.25" />
<line x1="50.45" y1="352.24" x2="55.35" y2="352.24" stroke="#000000" stroke-width="1.25" />
<line x1="438.90" y1="352.24" x2="434.00" y2="352.24" stroke="#000000" stroke-width="1.25" />
<line x1="50.45" y1="347.53" x2="55.35" y2="347.53" stroke="#000000" stroke-width="1.25" />
<line x1="438.90" y1="347.53" x2="434.00" y2="347.53" stroke="#000000" stroke-width="1.25" />
<line x1="50.45" y1="342.83" x2="60.25" y2="342.83" stroke="#000000" stroke-width="1.25" />
<line x1="438.90" y1="342.83" x2="429.10" y2="342.83" stroke="#000000" stroke-width="1.25" />
<line x1="50.45" y1="338.13" x2="55.35" y2="338.13" stroke="#000000" stroke-width="1.25" />
<line x1="438.90" y1="338.13" x2="434.00" y2="338.13" stroke="#000000" stroke-width="1.25" />
<line x1="50.45" y1="333.42" x2="55.35" y2="333.42" stroke="#000000" stroke-width="1.25" />
<line x1="438.90" y1="333.42" x2="434.00" y2="333.42" stroke="#000000" stroke-width="1.25" />
<line x1="50.45" y1="328.72" x2="55.35" y2="328.72" stroke="#000000" stroke-width="1.25" />
<line x1="438.90" y1="328.72" x2="434.00" y2="328.72" stroke="#000000" stroke-width="1.25" />
<line x1="50.45" y1="324.01" x2="55.35" y2="324.01" stroke="#000000" stroke-width="1.25" />
<line x1="438.90" y1="324.01" x2="434.00" y2="324.01" stroke="#000000" stroke-width="1.25" />
<line x1="50.45" y1="319.31" x2="60.25" y2="319.31" stroke="#000000" stroke-width="1.25" />
<line x1="438.90" y1="319.31" x2="429.10" y2="319.31" stroke="#000000" stroke-width="1.25" />
<line x1="50.45" y1="314.61" x2="55.35" y2="314.61" stroke="#000000" stroke-width="1.25" />
<line x1="438.90" y1="314.61" x2="434.00" y2="314.61" stroke="#000000" stroke-width="1.25" />
<line x1="50.45" y1="309.90" x2="55.35" y2="309.90" stroke="#000000" stroke-width="1.25" />
<line x1="438.90" y1="309.90" x2="434.00" y2="309.90" stroke="#000000" stroke-width="1.25" />
<line x1="50.45" y1="305.20" x2="55.35" y2="305.20" stroke="#000000" stroke-width="1.25" />
<line x1="438.90" y1="305.20" x2="434.00" y2="305.20" stroke="#000000" stroke-width="1.25" />
<line x1="50.45" y1="300.49" x2="55.35" y2="300.49" stroke="#000000" stroke-width="1.25" />
<line x1="438.90" y1="300.49" x2="434.00" y2="300.49" stroke="#000000" stroke-width="1.25" />
<line x1="50.45" y1="295.79" x2="60.25" y2="295.79" stroke="#000000" stroke-width="1.25" />
<line x1="438.90" y1="295.79" x2="429.10" y2="295.79" stroke="#000000" stroke-width="1.25" />
<line x1="50.45" y1="291.09" x2="55.35" y2="291.09" stroke="#000000" stroke-width="1.25" />
<line x1="438.90" y1="291.09" x2="434.00" y2="291.09" stroke="#000000" stroke-width="1.25" />
<line x1="50.45" y1="286.38" x2="55.35" y2="286.38" stroke="#000000" stroke-width="1.25" />
<line x1="438.90" y1="286.38" x2="434.00" y2="286.38" stroke="#000000" stroke-width="1.25" />
<rect x="52.85" y="171.95" width="1.3" height="1.3" fill="#0000ff"/>
<rect x="52.85" y="175.15" width="1.3" height="1.3" fill="#0000ff"/>
<rect x="55.85" y="171.95" width="1.3" height="1.3" fill="#0000ff"/>
<rect x="55.85" y="175.15" width="1.3" height="1.3" fill="#0000ff"/>
<rect x="52.85" y="177.35" width="1.3" height="1.3" fill="#00ff00"/>
<rect x="52.85" y="180.55" width="1.3" height="1.3" fill="#00ff00"/>
<rect x="55.85" y="177.35" width="1.3" height="1.3" fill="#00ff00"/>
<rect x="55.85" y="180.55" width="1.3" height="1.3" fill="#00ff00"/>
<line x1="53.20" y1="189.70" x2="56.60" y2="193.10" stroke="#ff0000" stroke-width="1.1" />
<line x1="53.20" y1="193.10" x2="56.60" y2="189.70" stroke="#ff0000" stroke-width="1.1" />
<line x1="52.70" y1="219.30" x2="56.50" y2="223.10" stroke="#00ff00" stroke-width="1.1" />
<line x1="52.70" y1="223.10" x2="56.50" y2="219.30" stroke="#00ff00" stroke-width="1.1" />
<line x1="52.90" y1="239.60" x2="56.70" y2="243.40" stroke="#ff0000" stroke-width="1.1" />
<line x1="52.90" y1="243.40" x2="56.70" y2="239.60" stroke="#ff0000" stroke-width="1.1" />
<text x="10.16" y="31.12" font-size="15.2" class="n" textLength="32.02" lengthAdjust="spacingAndGlyphs" fill="#000" stroke="#000" stroke-width="0.38"><tspan class="s" font-size="16.1">1</tspan>0.2</text>
<text x="23.96" y="63.50" font-size="15.2" class="n" textLength="18.02" lengthAdjust="spacingAndGlyphs" fill="#000" stroke="#000" stroke-width="0.38"><tspan class="s" font-size="16.1">1</tspan>0</text>
<text x="18.41" y="96.38" font-size="15.2" class="n" textLength="23.67" lengthAdjust="spacingAndGlyphs" fill="#000" stroke="#000" stroke-width="0.38">9.8</text>
<text x="18.41" y="129.26" font-size="15.2" class="n" textLength="23.68" lengthAdjust="spacingAndGlyphs" fill="#000" stroke="#000" stroke-width="0.38">9.6</text>
<text x="18.41" y="168.80" font-size="15.2" class="n" textLength="23.64" lengthAdjust="spacingAndGlyphs" fill="#000" stroke="#000" stroke-width="0.38">9.5</text>
<text x="32.61" y="215.70" font-size="15.2" class="n" textLength="9.55" lengthAdjust="spacingAndGlyphs" fill="#000" stroke="#000" stroke-width="0.38">9</text>
<text x="18.47" y="262.60" font-size="15.2" class="n" textLength="23.58" lengthAdjust="spacingAndGlyphs" fill="#000" stroke="#000" stroke-width="0.38">8.5</text>
<text x="32.77" y="301.49" font-size="15.2" class="n" textLength="9.30" lengthAdjust="spacingAndGlyphs" fill="#000" stroke="#000" stroke-width="0.38">3</text>
<text x="32.53" y="325.01" font-size="15.2" class="n" textLength="9.68" lengthAdjust="spacingAndGlyphs" fill="#000" stroke="#000" stroke-width="0.38">2</text>
<text x="33.42" y="348.53" font-size="15.2" class="n" textLength="7.92" lengthAdjust="spacingAndGlyphs" fill="#000" stroke="#000" stroke-width="0.38"><tspan class="s" font-size="16.1">1</tspan></text>
<text x="32.76" y="372.05" font-size="15.2" class="n" textLength="9.23" lengthAdjust="spacingAndGlyphs" fill="#000" stroke="#000" stroke-width="0.38">0</text>
<text x="33.42" y="395.57" font-size="15.2" class="n" textLength="7.92" lengthAdjust="spacingAndGlyphs" fill="#000" stroke="#000" stroke-width="0.38"><tspan class="s" font-size="16.1">1</tspan></text>
<line x1="22.30" y1="390.17" x2="30.70" y2="390.17" stroke="#000000" stroke-width="1.25" />
<text x="32.53" y="419.09" font-size="15.2" class="n" textLength="9.68" lengthAdjust="spacingAndGlyphs" fill="#000" stroke="#000" stroke-width="0.38">2</text>
<line x1="22.30" y1="413.69" x2="30.70" y2="413.69" stroke="#000000" stroke-width="1.25" />
<text x="45.81" y="432.40" font-size="15.2" class="n" textLength="9.28" lengthAdjust="spacingAndGlyphs" fill="#000" stroke="#000" stroke-width="0.38">0</text>
<text x="143.38" y="432.40" font-size="15.2" class="n" textLength="7.92" lengthAdjust="spacingAndGlyphs" fill="#000" stroke="#000" stroke-width="0.38"><tspan class="s" font-size="16.1">1</tspan></text>
<text x="239.80" y="432.40" font-size="15.2" class="n" textLength="9.74" lengthAdjust="spacingAndGlyphs" fill="#000" stroke="#000" stroke-width="0.38">2</text>
<text x="337.16" y="432.40" font-size="15.2" class="n" textLength="9.36" lengthAdjust="spacingAndGlyphs" fill="#000" stroke="#000" stroke-width="0.38">3</text>
<text x="434.55" y="432.40" font-size="15.2" class="n" textLength="8.81" lengthAdjust="spacingAndGlyphs" fill="#000" stroke="#000" stroke-width="0.38">4</text>
<text x="282.38" y="58.00" font-size="16.3" class="s" textLength="51.88" lengthAdjust="spacingAndGlyphs" fill="#000" stroke="#000" stroke-width="0.38" >Stellar</text>
<text x="343.20" y="58.00" font-size="16.3" class="s" textLength="37.33" lengthAdjust="spacingAndGlyphs" fill="#000" stroke="#000" stroke-width="0.38" >Mass</text>
<text x="283.36" y="245.80" font-size="16.3" class="s" textLength="28.60" lengthAdjust="spacingAndGlyphs" fill="#000" stroke="#000" stroke-width="0.38" >Gas</text>
<text x="319.40" y="245.80" font-size="16.3" class="s" textLength="37.02" lengthAdjust="spacingAndGlyphs" fill="#000" stroke="#000" stroke-width="0.38" >Mass</text>
<text x="108.46" y="375.30" font-size="16.3" class="s" textLength="28.60" lengthAdjust="spacingAndGlyphs" fill="#000" stroke="#000" stroke-width="0.38" >Gas</text>
<text x="144.44" y="375.30" font-size="16.3" class="s" textLength="66.46" lengthAdjust="spacingAndGlyphs" fill="#000" stroke="#000" stroke-width="0.38" >Fraction</text>
<line x1="244.40" y1="318.80" x2="275.70" y2="318.80" stroke="#0000ff" stroke-width="1.2" />
<line x1="244.40" y1="331.80" x2="275.70" y2="331.80" stroke="#0000ff" stroke-width="1.2" stroke-dasharray="1.4 2.1"/>
<line x1="244.40" y1="344.80" x2="275.70" y2="344.80" stroke="#00ff00" stroke-width="1.2" />
<line x1="244.40" y1="357.80" x2="275.70" y2="357.80" stroke="#00ff00" stroke-width="1.2" stroke-dasharray="1.4 2.1"/>
<line x1="244.40" y1="370.80" x2="275.70" y2="370.80" stroke="#ff0000" stroke-width="1.2" />
<line x1="244.40" y1="383.80" x2="275.70" y2="383.80" stroke="#ff0000" stroke-width="1.2" stroke-dasharray="1.4 2.1"/>
<line x1="244.30" y1="396.80" x2="251.30" y2="396.80" stroke="#000000" stroke-width="1.15" />
<line x1="255.10" y1="396.80" x2="262.60" y2="396.80" stroke="#000000" stroke-width="1.15" />
<line x1="266.40" y1="396.80" x2="273.40" y2="396.80" stroke="#000000" stroke-width="1.15" />
<text x="295.31" y="325.90" font-size="16.3" class="s" textLength="46.43" lengthAdjust="spacingAndGlyphs" fill="#000" stroke="#000" stroke-width="0.38" >Bower</text>
<text x="295.31" y="338.90" font-size="16.3" class="s" textLength="46.43" lengthAdjust="spacingAndGlyphs" fill="#000" stroke="#000" stroke-width="0.38" >Bower</text>
<text x="349.46" y="338.90" font-size="16.3" class="s" textLength="19.79" lengthAdjust="spacingAndGlyphs" fill="#000" stroke="#000" stroke-width="0.38" >no</text>
<text x="376.92" y="338.90" font-size="16.3" class="s" textLength="30.43" lengthAdjust="spacingAndGlyphs" fill="#000" stroke="#000" stroke-width="0.38" >RPS</text>
<text x="295.25" y="351.90" font-size="16.3" class="s" textLength="35.35" lengthAdjust="spacingAndGlyphs" fill="#000" stroke="#000" stroke-width="0.38" >Font</text>
<text x="295.25" y="364.90" font-size="16.3" class="s" textLength="35.35" lengthAdjust="spacingAndGlyphs" fill="#000" stroke="#000" stroke-width="0.38" >Font</text>
<text x="338.57" y="364.90" font-size="16.3" class="s" textLength="19.26" lengthAdjust="spacingAndGlyphs" fill="#000" stroke="#000" stroke-width="0.38" >no</text>
<text x="365.82" y="364.90" font-size="16.3" class="s" textLength="30.43" lengthAdjust="spacingAndGlyphs" fill="#000" stroke="#000" stroke-width="0.38" >RPS</text>
<text x="294.72" y="377.90" font-size="16.3" class="s" textLength="55.87" lengthAdjust="spacingAndGlyphs" fill="#000" stroke="#000" stroke-width="0.38" >Shocks</text>
<text x="294.72" y="390.90" font-size="16.3" class="s" textLength="55.87" lengthAdjust="spacingAndGlyphs" fill="#000" stroke="#000" stroke-width="0.38" >Shocks</text>
<text x="358.16" y="390.90" font-size="16.3" class="s" textLength="19.79" lengthAdjust="spacingAndGlyphs" fill="#000" stroke="#000" stroke-width="0.38" >no</text>
<text x="385.62" y="390.90" font-size="16.3" class="s" textLength="30.01" lengthAdjust="spacingAndGlyphs" fill="#000" stroke="#000" stroke-width="0.38" >RPS</text>
<text x="295.12" y="403.90" font-size="16.3" class="s" textLength="60.74" lengthAdjust="spacingAndGlyphs" fill="#000" stroke="#000" stroke-width="0.38" >average</text>
<text x="363.72" y="403.90" font-size="16.3" class="s" textLength="7.61" lengthAdjust="spacingAndGlyphs" fill="#000" stroke="#000" stroke-width="0.05" >r</text>
<text x="371.68" y="408.30" font-size="10.5" class="s" textLength="16.99" lengthAdjust="spacingAndGlyphs" fill="#000" stroke="#000" stroke-width="0.55" >acc</text>
<text x="228.99" y="452.80" font-size="16.3" class="s" textLength="8.34" lengthAdjust="spacingAndGlyphs" fill="#000" stroke="#000" stroke-width="0.02" >r</text>
<path d="M 237.8,454.7 L 246.1,440.2" fill="none" stroke="#000" stroke-width="1.15" stroke-linecap="round"/>
<text x="246.59" y="452.80" font-size="16.3" class="s" textLength="8.34" lengthAdjust="spacingAndGlyphs" fill="#000" stroke="#000" stroke-width="0.02" >r</text>
<text x="255.03" y="456.90" font-size="10.5" class="s" textLength="13.56" lengthAdjust="spacingAndGlyphs" fill="#000" stroke="#000" stroke-width="0.55" >vir</text>
<g transform="translate(14.5,138.0) rotate(-90)"><text x="-0.45" y="0" font-size="16.3" class="s" textLength="22.88" lengthAdjust="spacingAndGlyphs" fill="#000" stroke="#000" stroke-width="0.38">log</text><path d="M 27.5,-12.2 Q 19.9,-5 27.5,2.3" fill="none" stroke="#000" stroke-width="1.15" stroke-linecap="round"/><text x="29.14" y="0" font-size="16.3" class="s" textLength="12.04" lengthAdjust="spacingAndGlyphs" fill="#000" stroke="#000" stroke-width="0.35">M</text><circle cx="43.6" cy="0.8" r="1.5" fill="#000"/><path d="M 46.6,3.3 L 55.4,-12.0" fill="none" stroke="#000" stroke-width="1.15" stroke-linecap="round"/><text x="56.0" y="0" font-size="16.3" class="s" textLength="9.8" lengthAdjust="spacingAndGlyphs" fill="#000" stroke="#000" stroke-width="0.12" >h</text><path d="M 68.1,-8.7 L 72.0,-8.7" fill="none" stroke="#000" stroke-width="1.1"/><text x="73.3" y="-6.2" font-size="9" class="s" textLength="6.0" lengthAdjust="spacingAndGlyphs" fill="#000" stroke="#000" stroke-width="0.25" >1</text><text x="79.7" y="0" font-size="16.3" class="s" textLength="11.4" lengthAdjust="spacingAndGlyphs" fill="#000" stroke="#000" stroke-width="0.38" >M</text><circle cx="94.3" cy="1.2" r="2.95" fill="none" stroke="#000" stroke-width="1.05"/><circle cx="94.3" cy="1.2" r="0.8" fill="#000"/><path d="M 100.0,-12.2 Q 107.6,-5 100.0,2.3" fill="none" stroke="#000" stroke-width="1.15" stroke-linecap="round"/></g>
<g transform="translate(14.5,273.3) rotate(-90)"><text x="-0.45" y="0" font-size="16.3" class="s" textLength="22.88" lengthAdjust="spacingAndGlyphs" fill="#000" stroke="#000" stroke-width="0.38">log</text><path d="M 27.5,-12.2 Q 19.9,-5 27.5,2.3" fill="none" stroke="#000" stroke-width="1.15" stroke-linecap="round"/><text x="29.14" y="0" font-size="16.3" class="s" textLength="12.04" lengthAdjust="spacingAndGlyphs" fill="#000" stroke="#000" stroke-width="0.35">M</text><text x="41.3" y="4.8" font-size="10.8" class="s" textLength="15.2" lengthAdjust="spacingAndGlyphs" fill="#000" stroke="#000" stroke-width="0.55" >gas</text><path d="M 57.8,3.3 L 66.6,-12.0" fill="none" stroke="#000" stroke-width="1.15" stroke-linecap="round"/><text x="67.0" y="0" font-size="16.3" class="s" textLength="9.8" lengthAdjust="spacingAndGlyphs" fill="#000" stroke="#000" stroke-width="0.12" >h</text><path d="M 78.4,-8.7 L 82.3,-8.7" fill="none" stroke="#000" stroke-width="1.1"/><text x="84.0" y="-6.2" font-size="9" class="s" textLength="6.0" lengthAdjust="spacingAndGlyphs" fill="#000" stroke="#000" stroke-width="0.25" >1</text><text x="90.3" y="0" font-size="16.3" class="s" textLength="11.4" lengthAdjust="spacingAndGlyphs" fill="#000" stroke="#000" stroke-width="0.38" >M</text><circle cx="105.5" cy="1.2" r="2.95" fill="none" stroke="#000" stroke-width="1.05"/><circle cx="105.5" cy="1.2" r="0.8" fill="#000"/><path d="M 111.60000000000001,-12.2 Q 119.2,-5 111.60000000000001,2.3" fill="none" stroke="#000" stroke-width="1.15" stroke-linecap="round"/></g>
<g transform="translate(14.5,389.4) rotate(-90)"><text x="-0.45" y="0" font-size="16.3" class="s" textLength="22.88" lengthAdjust="spacingAndGlyphs" fill="#000" stroke="#000" stroke-width="0.38">log</text><path d="M 27.5,-12.2 Q 19.9,-5 27.5,2.3" fill="none" stroke="#000" stroke-width="1.15" stroke-linecap="round"/><text x="29.14" y="0" font-size="16.3" class="s" textLength="12.04" lengthAdjust="spacingAndGlyphs" fill="#000" stroke="#000" stroke-width="0.35">M</text><text x="40.0" y="4.8" font-size="10.8" class="s" textLength="15.6" lengthAdjust="spacingAndGlyphs" fill="#000" stroke="#000" stroke-width="0.55" >gas</text><path d="M 56.6,3.3 L 66.0,-12.0" fill="none" stroke="#000" stroke-width="1.15" stroke-linecap="round"/><text x="66.0" y="0" font-size="16.3" class="s" textLength="11.7" lengthAdjust="spacingAndGlyphs" fill="#000" stroke="#000" stroke-width="0.38" >M</text><circle cx="79.9" cy="0.8" r="1.5" fill="#000"/><path d="M 83.5,-12.2 Q 91.1,-5 83.5,2.3" fill="none" stroke="#000" stroke-width="1.15" stroke-linecap="round"/></g>
</svg>
</body></html>
